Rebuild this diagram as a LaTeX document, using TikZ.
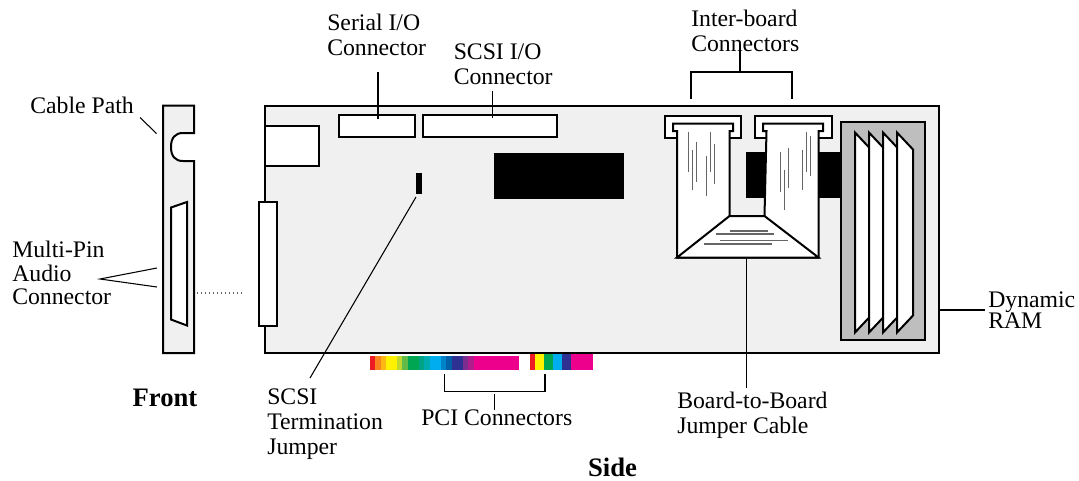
\documentclass[tikz,border=0pt]{standalone}
\usepackage{fontspec}
\setmainfont{Liberation Serif}
\definecolor{boardgray}{HTML}{F0F0F0}
\definecolor{ramgray}{HTML}{BEBEBE}
\begin{document}
\begin{tikzpicture}[
		x=0.75pt,y=-0.75pt,
		part/.style={draw,line width=1.5pt,fill=white,line join=miter},
		lead/.style={draw,line width=0.8pt},
		fold/.style={draw=black!60,line width=1.3pt},
		txt/.style={inner sep=0pt,align=left,anchor=west,font=\fontsize{17.8pt}{18.75pt}\selectfont},
		head/.style={inner sep=0pt,font=\fontsize{20pt}{20pt}\selectfont\bfseries}]
	\useasboundingbox (0,0) rectangle (1079,480);
	%% define front panel
	\draw[part,fill=boardgray] (163,105.5) -- (194,105.5) -- (194,133) -- (183,133) .. controls (175,133) and (171,138) .. (171,147) .. controls (171,156) and (175,161) .. (183,161) -- (194,161) -- (194,353) -- (163,353) -- cycle;
	\draw[part] (171,207.5) -- (187,202) -- (187,325.5) -- (171,319.5) -- cycle;
	\draw[draw=black!60,line width=1pt,dotted] (197,293) -- (242,293);
	%% define board
	\draw[part,fill=boardgray] (265,105.5) rectangle (939,353);
	\draw[part] (265,125.5) rectangle (319,165.5);
	\draw[part] (259,201.5) rectangle (277,325.5);
	\draw[part] (339,115) rectangle (415,137);
	\draw[part] (423,115) rectangle (557,137);
	\fill (416,173) rectangle (422,194);
	\fill (494,153) rectangle (624,199);
	\fill (746,152) rectangle (840,198);
	%% define memory
	\draw[part,fill=ramgray] (841,121.5) rectangle (925,339.5);
	\foreach \xa in {855,869,883,897}
		\draw[part] (\xa,132.5) -- (\xa+16,149.5) -- (\xa+16,315.5) -- (\xa,332.5) -- cycle;
	%% define inter-board cable
	\draw[part] (664.5,115.5) rectangle (741,137.5);
	\draw[part] (755,115.5) rectangle (831.5,137.5);
	\draw[part] (677,257.5) -- (677,131) -- (673,131) -- (673,123.5) -- (733,123.5) -- (733,131) -- (729.5,131) -- (729.5,216) -- (764.5,216) -- (766.5,131) -- (763,131) -- (763,123.5) -- (823,123.5) -- (823,131) -- (818.5,131) -- (818.5,257.5) -- cycle;
	\draw[part] (729.5,216) -- (764.5,216) -- (818.5,257.5) -- (677,257.5) -- cycle;
	\foreach \xa/\ya in {688.5/131.5,692.5/150,696.5/141.5,706.5/155.5,710.5/131.5,714.5/143.5,780.5/151.5,784.5/169.5,788.5/147.5,802.5/149.5,806.5/131.5,810.5/135.5}
		\draw[fold] (\xa,\ya) -- +(0,40);
	\draw[fold] (729.5,231) -- (767.5,231);
	\draw[fold] (715.5,234) -- (774,234);
	\draw[fold] (719.5,240.5) -- (787.5,240.5);
	\draw[fold] (704,244) -- (772,244);
	%% define pci strips
	\foreach \xa/\xb/\colr in {370/375/ED1C24,375/381/F7841F,381/386/FDB813,386/397/FFF200,397/402/BFD730,402/408/62BB46,408/419/00A651,419/424/00A386,424/430/00ACB0,430/441/00AEEF,441/446/0083C9,446/452/0061A8,452/463/2E3192,463/468/7B2D90,468/474/B01C8B,474/519/EC008C}{
		\definecolor{stripcol}{HTML}{\colr}
		\fill[stripcol] (\xa,355.5) rectangle (\xb,370);
	}
	\foreach \xa/\xb/\colr in {530/535/ED1C24,535/544/FFF200,544/553/00A651,553/562/00AEEF,562/571/2E3192,571/593/EC008C}{
		\definecolor{stripcol}{HTML}{\colr}
		\fill[stripcol] (\xa,354) rectangle (\xb,370);
	}
	%% define labels
	\node (lblcable) at (30,105) [txt] {Cable Path};
	\node (lblaudio) at (12,273) [txt] {Multi-Pin\\[-1.2pt]Audio\\[-1.2pt]Connector};
	\node (lblserial) at (327,35) [txt] {Serial I/O\\Connector};
	\node (lblscsi) at (453.5,64) [txt] {SCSI I/O\\Connector};
	\node (lblinter) at (691,31) [txt] {Inter-board\\Connectors};
	\node (lblterm) at (267,424.5) [txt] {SCSI\\Termination\\Jumper};
	\node (lblpci) at (421,418) [txt] {PCI Connectors};
	\node (lblcable2) at (677,415.5) [txt] {Board-to-Board\\Jumper Cable};
	\node (lblram) at (988,310) [txt] {Dynamic\\[-2.5pt]RAM};
	\node (lblfront) at (165,398) [head] {Front};
	\node (lblside) at (612.5,467) [head] {Side};
	%% define leader ends
	\coordinate (cablefrom) at (140,117.5);
	\coordinate (cableto) at (156.5,133.5);
	\coordinate (audiofrom) at (100,279);
	\coordinate (audioa) at (157,268);
	\coordinate (audiob) at (157,287);
	\coordinate (serialfrom) at (378,72);
	\coordinate (serialto) at (378,119);
	\coordinate (scsifrom) at (492.5,91);
	\coordinate (scsito) at (492.5,118);
	\coordinate (interfrom) at (740,45);
	\coordinate (intermid) at (740,72);
	\coordinate (interleft) at (691,99);
	\coordinate (interright) at (792,99);
	\coordinate (termfrom) at (310,378);
	\coordinate (termto) at (416,197);
	\coordinate (pcifrom) at (494.5,410);
	\coordinate (pcito) at (494.5,394);
	\coordinate (pcimid) at (494.5,391.5);
	\coordinate (pcileft) at (444.5,374);
	\coordinate (pciright) at (545,374);
	\coordinate (jumperfrom) at (746.5,388);
	\coordinate (jumperto) at (746.5,257.5);
	\coordinate (ramfrom) at (985,310);
	\coordinate (ramto) at (938,310);
	%% define arrows
	\draw[lead] (cablefrom) -- (cableto);
	\draw[lead] (audioa) -- (audiofrom) -- (audiob);
	\draw[lead] (serialfrom) -- (serialto);
	\draw[lead] (scsifrom) -- (scsito);
	\draw[lead] (interfrom) -- (intermid);
	\draw[lead] (interleft) |- (intermid) -| (interright);
	\draw[lead] (termfrom) -- (termto);
	\draw[lead] (pcifrom) -- (pcito);
	\draw[lead] (pcileft) |- (pcimid) -| (pciright);
	\draw[lead] (jumperfrom) -- (jumperto);
	\draw[lead] (ramfrom) -- (ramto);
\end{tikzpicture}
\end{document}
